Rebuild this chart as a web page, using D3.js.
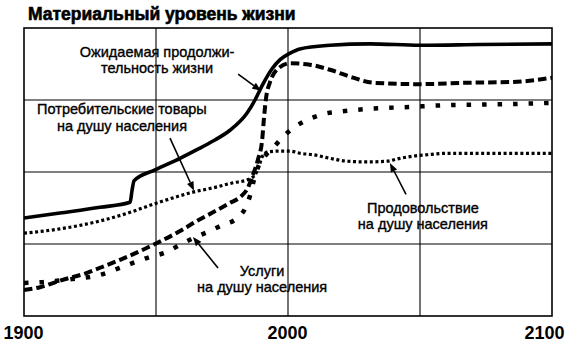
<!DOCTYPE html>
<html><head><meta charset="utf-8">
<script src="https://cdn.jsdelivr.net/npm/d3@7"></script>
<style>
body{margin:0;background:#fff;}
svg{display:block;}
text{font-family:"Liberation Sans",Arial,sans-serif;fill:#000;}
</style></head>
<body>
<svg id="c" width="570" height="345"></svg>
<script>
// ---- data ----
const title = "Материальный уровень жизни";
const xTicks = [1900, 2000, 2100];
const xGrid = [1950, 2000, 2050];
const yGrid = [1, 2, 3];

const lifeYears  = [1900,1913.6,1928.8,1940.2,1940.9,1941.7,1949.6,1959.1,1965.5,1971.6,1978,1984.5,1987.5,1990.5,1993.9,1997,2000.8,2004.5,2015.9,2031.1,2050,2072.7,2100];
const lifeValues = [1.36,1.43,1.51,1.58,1.74,1.88,2.03,2.19,2.31,2.43,2.58,2.82,3.00,3.22,3.43,3.56,3.65,3.71,3.76,3.78,3.76,3.77,3.78];

const goodsYears  = [1900,1906.1,1913.6,1923.9,1928.8,1936.4,1949.6,1959.1,1965.5,1971.6,1978,1981.8,1984.8,1986.7,1988.6,1990.2,1990.9,1991.7,1993.2,1995.8,2000.8,2008.3,2015.9,2024.6,2032.2,2050,2067.8,2085.2,2100];
const goodsValues = [0.36,0.40,0.49,0.60,0.67,0.78,1.00,1.18,1.32,1.44,1.57,1.65,1.78,1.96,2.17,2.44,2.75,3.03,3.25,3.42,3.51,3.49,3.42,3.31,3.24,3.22,3.24,3.25,3.31];

const servYears  = [1900,1907.2,1917.4,1928.8,1936.4,1947.7,1954.2,1959.1,1964,1969.7,1975,1980.7,1983.7,1985.6,1987.1,1989,1991.7,1994.7,1998.1,2002.7,2008.3,2014,2020.1,2031.8,2043.9,2061.4,2080.3,2100];
const servValues = [0.46,0.47,0.51,0.57,0.67,0.82,0.89,0.99,1.08,1.17,1.26,1.36,1.49,1.67,1.89,2.10,2.24,2.35,2.49,2.63,2.74,2.81,2.84,2.88,2.90,2.93,2.94,2.96];

const foodYears  = [1900,1913.6,1928.8,1940.2,1949.6,1959.1,1964,1971.6,1979.2,1984.5,1987.5,1989,1990.2,1992.4,1997,2000.8,2004.5,2009.5,2015.9,2022.3,2029.9,2037.5,2042.4,2047.3,2052.7,2060.2,2072.7,2100];
const foodValues = [1.15,1.21,1.32,1.44,1.56,1.67,1.72,1.78,1.85,1.89,1.96,2.08,2.21,2.28,2.29,2.29,2.26,2.24,2.19,2.15,2.14,2.15,2.19,2.22,2.24,2.26,2.26,2.26];

const labelLife  = ["Ожидаемая продолжи-", "тельность жизни"];
const labelGoods = ["Потребительские товары", "на душу населения"];
const labelFood  = ["Продовольствие", "на душу населения"];
const labelServ  = ["Услуги", "на душу населения"];

// ---- chart ----
const svg = d3.select("#c");
const W = 570, H = 345;
const m = {left:24, right:18, top:28, bottom:29};
const x = d3.scaleLinear().domain([1900, 2100]).range([m.left, W - m.right]);
const y = d3.scaleLinear().domain([0, 4]).range([H - m.bottom, m.top]);

svg.append("rect").attr("width", W).attr("height", H).attr("fill", "#fff");

svg.append("text").attr("x", 28).attr("y", 20)
  .attr("font-size", 17.5).attr("font-weight", "bold")
  .style("stroke", "#000").style("stroke-width", 0.6)
  .text(title);

// grid
const g = svg.append("g");
g.selectAll(".vg").data(xGrid).join("line")
  .attr("x1", d => x(d)).attr("x2", d => x(d))
  .attr("y1", y(0)).attr("y2", y(4))
  .attr("stroke", "#000").attr("stroke-width", 1.1);
g.selectAll(".hg").data(yGrid).join("line")
  .attr("x1", x(1900)).attr("x2", x(2100))
  .attr("y1", d => y(d)).attr("y2", d => y(d))
  .attr("stroke", "#000").attr("stroke-width", 1.1);
g.append("rect")
  .attr("x", x(1900)).attr("y", y(4))
  .attr("width", x(2100) - x(1900)).attr("height", y(0) - y(4))
  .attr("fill", "none").attr("stroke", "#000").attr("stroke-width", 1.6);

// axis labels
const ax = svg.append("g").attr("transform", `translate(0,${y(0)})`)
  .call(d3.axisBottom(x).tickValues(xTicks).tickSize(0).tickPadding(10).tickFormat(d3.format("d")));
ax.select(".domain").remove();
ax.selectAll("text")
  .attr("font-family", "Liberation Sans, Arial, sans-serif")
  .attr("font-size", 18).attr("font-weight", "bold").attr("fill", "#000")
  .attr("dy", "0.71em")
  .attr("dx", (d, i) => d === 2100 ? -8 : (d === 1900 ? -1 : -1));

// lines
const line = d3.line().x(d => x(d[0])).y(d => y(d[1])).curve(d3.curveMonotoneX);
const zip = (a, b) => a.map((v, i) => [v, b[i]]);

svg.append("path").datum(zip(foodYears, foodValues)).attr("d", line)
  .attr("fill", "none").attr("stroke", "#000").attr("stroke-width", 3.2)
  .attr("stroke-dasharray", "3 2.6");
svg.append("path").datum(zip(servYears, servValues)).attr("d", line)
  .attr("fill", "none").attr("stroke", "#000").attr("stroke-width", 4.5)
  .attr("stroke-dasharray", "4.5 11");
svg.append("path").datum(zip(goodsYears, goodsValues)).attr("d", line)
  .attr("fill", "none").attr("stroke", "#000").attr("stroke-width", 4)
  .attr("stroke-dasharray", "8.5 4");
svg.append("path").datum(zip(lifeYears, lifeValues)).attr("d", line)
  .attr("fill", "none").attr("stroke", "#000").attr("stroke-width", 3.6)
  .attr("stroke-linejoin", "round");

// annotations
function label(lines, cx, v1, v2) {
  const t = svg.append("g");
  [v1, v2].forEach((v, i) => {
    t.append("text").attr("x", x(cx)).attr("y", y(v))
      .attr("text-anchor", "middle").attr("font-size", 14.5)
      .style("stroke", "#000").style("stroke-width", 0.35)
      .text(lines[i]);
  });
}
function arrow(x0, v0, x1, v1) {
  const px0 = x(x0), py0 = y(v0), px1 = x(x1), py1 = y(v1);
  const ang = Math.atan2(py1 - py0, px1 - px0);
  const L = 9, Wd = 3.5;
  const bx = px1 - L * Math.cos(ang), by = py1 - L * Math.sin(ang);
  svg.append("line").attr("x1", px0).attr("y1", py0).attr("x2", bx).attr("y2", by)
    .attr("stroke", "#000").attr("stroke-width", 1.6);
  const p = [
    [px1, py1],
    [bx + Wd * Math.sin(ang), by - Wd * Math.cos(ang)],
    [bx - Wd * Math.sin(ang), by + Wd * Math.cos(ang)]
  ];
  svg.append("path").attr("d", "M" + p.map(q => q.join(",")).join("L") + "Z").attr("fill", "#000");
}

label(labelLife, 1950.4, 3.60, 3.375);
arrow(1981.1, 3.36, 1989.8, 3.125);
label(labelGoods, 1937.1, 2.80, 2.575);
arrow(1955.3, 2.47, 1964.4, 1.74);
label(labelFood, 2051.1, 1.43, 1.205);
arrow(2044.7, 1.69, 2038.6, 2.125);
label(labelServ, 1990.2, 0.555, 0.33);
arrow(1973.5, 0.667, 1964.0, 1.097);
</script>
</body></html>
